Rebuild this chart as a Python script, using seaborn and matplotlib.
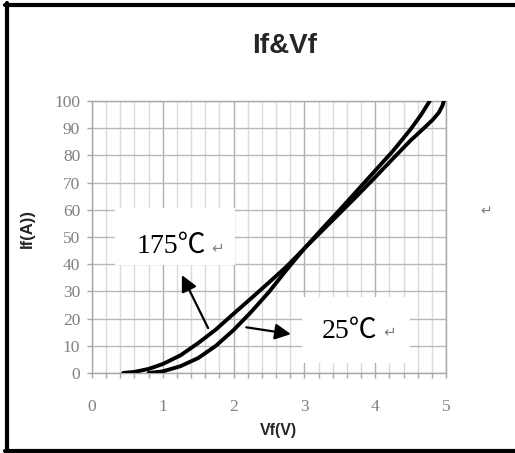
import matplotlib
matplotlib.use("Agg")
import matplotlib.pyplot as plt
import seaborn as sns
import pandas as pd
from matplotlib.lines import Line2D
from matplotlib.patches import Rectangle
from matplotlib.ticker import MultipleLocator

# forward voltage / current curves
vf_175 = [0.44, 0.6, 0.8, 1.0, 1.25, 1.5, 1.75, 2.0, 2.25, 2.5, 2.75, 3.0,
          3.25, 3.5, 3.75, 4.0, 4.25, 4.5, 4.7, 4.82, 4.9, 4.95, 4.97]
if_175 = [0, 0.4, 1.5, 3.3, 6.5, 11.0, 16.0, 21.8, 27.5, 33.3, 39.2, 45.8,
          52.3, 58.8, 65.3, 72.0, 78.8, 85.5, 90.3, 93.3, 95.8, 98.3, 100]
vf_25 = [0.8, 1.0, 1.25, 1.5, 1.75, 2.0, 2.25, 2.5, 2.75, 3.0, 3.25, 3.5,
         3.75, 4.0, 4.25, 4.5, 4.65, 4.77]
if_25 = [0, 0.6, 2.5, 5.5, 10.0, 15.8, 22.5, 29.8, 38.0, 45.8, 53.0, 60.0,
         67.2, 74.4, 81.6, 89.6, 95.0, 100]

x_ticks = [0, 1, 2, 3, 4, 5]
y_ticks = list(range(0, 101, 10))
title = "If&Vf"
x_label = "Vf(V)"
y_label = "If(A))"

df = pd.concat([
    pd.DataFrame({"Vf": vf_175, "If": if_175, "temp": "175"}),
    pd.DataFrame({"Vf": vf_25, "If": if_25, "temp": "25"}),
])

sns.set_style("white")
plt.rcParams["font.family"] = ["Liberation Serif", "Noto Sans CJK SC", "DejaVu Sans"]

fig = plt.figure(figsize=(5.15, 4.53), dpi=100)
ax = fig.add_axes([92 / 515, 80 / 453, 354 / 515, 272 / 453])

sns.lineplot(data=df, x="Vf", y="If", hue="temp", units="temp",
             estimator=None, sort=False, palette=["black", "black"],
             linewidth=2.8, legend=False, ax=ax, zorder=4)

ax.set_xlim(0, 5)
ax.set_ylim(0, 100)
ax.set_xticks(x_ticks)
ax.set_yticks(y_ticks)
ax.xaxis.set_minor_locator(MultipleLocator(0.2))
ax.set_axisbelow(True)
ax.grid(axis="x", which="major", color="#b0b0b0", lw=1.0)
ax.grid(axis="x", which="minor", color="#dadada", lw=1.0)
ax.grid(axis="y", which="major", color="#b8b8b8", lw=1.0)
for s in ax.spines.values():
    s.set_color("#a8a8a8")
    s.set_linewidth(1.0)
ax.tick_params(axis="x", which="both", bottom=True, length=3.5, width=1,
               color="#a8a8a8", pad=15, labelsize=12.5, labelcolor="#808080")
ax.tick_params(axis="y", left=True, length=3.5, width=1, color="#a8a8a8",
               pad=5, labelsize=12.5, labelcolor="#808080")
ax.set_xlabel("")
ax.set_ylabel("")

# white label boxes covering the grid
ax.add_patch(Rectangle((0.32, 39.7), 1.70, 21.0, facecolor="white",
                       edgecolor="none", zorder=2))
ax.add_patch(Rectangle((2.97, 3.7), 1.52, 24.2, facecolor="white",
                       edgecolor="none", zorder=2))

ax.text(0.63, 44.0, "175℃", fontsize=20, color="black", ha="left",
        va="baseline", zorder=5)
ax.text(1.69, 44.5, "↵", fontsize=11, color="#808080", ha="left",
        va="baseline", family="DejaVu Sans", zorder=5)
ax.text(3.24, 12.8, "25℃", fontsize=20, color="black", ha="left",
        va="baseline", zorder=5)
ax.text(4.12, 13.3, "↵", fontsize=11, color="#808080", ha="left",
        va="baseline", family="DejaVu Sans", zorder=5)

arrow = dict(arrowstyle="-|>", color="black", lw=1.6, mutation_scale=24,
             shrinkA=0, shrinkB=0)
ax.annotate("", xy=(1.27, 36.0), xytext=(1.64, 16.5), arrowprops=arrow,
            zorder=5)
ax.annotate("", xy=(2.81, 14.3), xytext=(2.18, 16.8), arrowprops=arrow,
            zorder=5)

sans = ["Liberation Sans", "DejaVu Sans"]
fig.text(285 / 515, 1 - 53 / 453, title, ha="center", va="baseline",
         fontsize=20, fontweight="bold", family=sans)
fig.text(278 / 515, 1 - 431 / 453, x_label, ha="center", va="center",
         fontsize=11.5, fontweight="bold", family=sans)
fig.text(27 / 515, 1 - 229 / 453, y_label, ha="center", va="center",
         rotation=90, fontsize=12, fontweight="bold", family=sans)
fig.text(486 / 515, 1 - 211 / 453, "↵", ha="center", va="center",
         fontsize=10, color="#808080", family="DejaVu Sans")

# outer frame (open on the right side)
for xs, ys in [([7 / 515, 7 / 515], [1 - 3 / 453, 2 / 453]),
               ([5 / 515, 1], [1 - 5 / 453, 1 - 5 / 453]),
               ([5 / 515, 1], [2.5 / 453, 2.5 / 453])]:
    fig.add_artist(Line2D(xs, ys, color="black", lw=3.0,
                          transform=fig.transFigure))

fig.savefig("out.png", dpi=100)
